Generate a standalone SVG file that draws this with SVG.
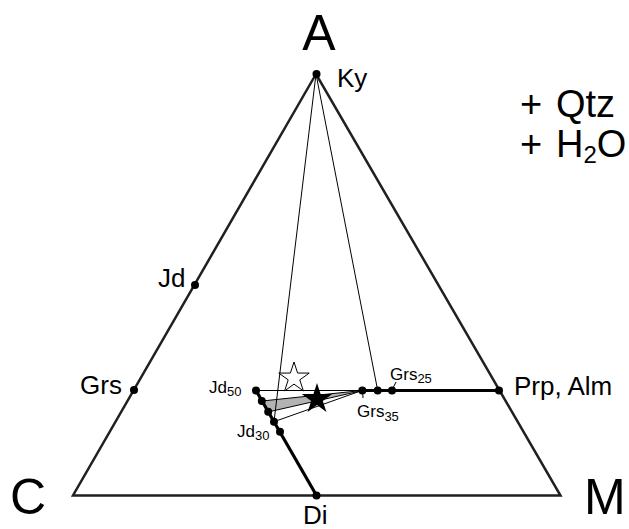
<svg xmlns="http://www.w3.org/2000/svg" width="629" height="529" viewBox="0 0 629 529">
<style>
text{font-family:"Liberation Sans",Arial,sans-serif;fill:#000}
.edge{fill:none;stroke:#231f20;stroke-width:2.5;stroke-linejoin:miter}
.thick{fill:none;stroke:#000;stroke-width:3.2}
.thin{fill:none;stroke:#000;stroke-width:1}
.dot{fill:#000}
.big{font-size:50px}
.lab{font-size:26px}
.sm{font-size:17px}
.sub{font-size:13px}
.plus{font-size:38px}
</style>
<defs>
<path id="star" d="M0,-16 L3.6,-4.95 L15.22,-4.95 L5.81,1.89 L9.4,12.94 L0,6.11 L-9.4,12.94 L-5.81,1.89 L-15.22,-4.95 L-3.6,-4.95 Z"/>
</defs>
<rect width="629" height="529" fill="#fff"/>
<g id="connectors">
<polygon class="edge" points="316,74 73,495.5 560.5,495.5"/>
<polygon points="262,401 268,412 356,392 362,390.5" fill="#b3b3b3" stroke="#000" stroke-width="1"/>
<line class="thin" x1="316" y1="74" x2="274" y2="421.7"/>
<line class="thin" x1="316" y1="74" x2="377.7" y2="390.5"/>
<line class="thin" x1="256" y1="390.5" x2="362" y2="390.5"/>
<line class="thin" x1="274" y1="421.7" x2="362" y2="390.5"/>
<line class="thick" x1="362" y1="390.5" x2="499" y2="390.5"/>
<line class="thick" x1="256" y1="390.5" x2="316.5" y2="495.5"/>
<line class="thin" x1="392" y1="390" x2="396" y2="382"/>
<line class="thin" x1="362.5" y1="390" x2="363" y2="398"/>
</g>
<g id="A"><text class="big" x="319" y="50" text-anchor="middle">A</text></g>
<g id="C"><text class="big" x="10" y="514">C</text></g>
<g id="M"><text class="big" x="584" y="514">M</text></g>
<g id="Ky"><circle class="dot" cx="316.5" cy="74" r="4"/><text class="lab" x="337" y="87">Ky</text></g>
<g id="Jd"><circle class="dot" cx="195" cy="285" r="4"/><text class="lab" x="158" y="287">Jd</text></g>
<g id="Grs"><circle class="dot" cx="134" cy="390" r="4"/><text class="lab" x="80" y="394">Grs</text></g>
<g id="PrpAlm"><circle class="dot" cx="499" cy="390.5" r="4"/><text class="lab" x="514" y="395">Prp, Alm</text></g>
<g id="Di"><circle class="dot" cx="316.5" cy="495.5" r="4"/><text class="lab" x="303" y="524">Di</text></g>
<g id="Jd50"><circle class="dot" cx="256" cy="390.5" r="4"/><text class="sm" x="209" y="393">Jd<tspan class="sub" dy="3">50</tspan></text></g>
<g id="Jd30"><circle class="dot" cx="274" cy="421.7" r="4"/><text class="sm" x="237" y="437">Jd<tspan class="sub" dy="3">30</tspan></text></g>
<g id="jdpts"><circle class="dot" cx="261.8" cy="401" r="4"/><circle class="dot" cx="268.2" cy="411.7" r="4"/><circle class="dot" cx="280" cy="431.7" r="4"/></g>
<g id="Grs35"><circle class="dot" cx="362.3" cy="390.5" r="4"/><text class="sm" x="357" y="417">Grs<tspan class="sub" dy="4">35</tspan></text></g>
<g id="Grs30"><circle class="dot" cx="377.7" cy="390.5" r="4"/></g>
<g id="Grs25"><circle class="dot" cx="392" cy="390.5" r="4"/><text class="sm" x="390" y="380">Grs<tspan class="sub" dy="3">25</tspan></text></g>
<g id="stars">
<use href="#star" x="294" y="378" fill="#fff" stroke="#000" stroke-width="1"/>
<use href="#star" x="317" y="399" fill="#000"/>
</g>
<g id="extra">
<text class="plus" x="520" y="117">+</text>
<text class="plus" x="556" y="117">Qtz</text>
<text class="plus" x="520" y="157">+</text>
<text class="plus" x="556" y="157">H<tspan font-size="24" dy="6">2</tspan><tspan dy="-6">O</tspan></text>
</g>
</svg>
